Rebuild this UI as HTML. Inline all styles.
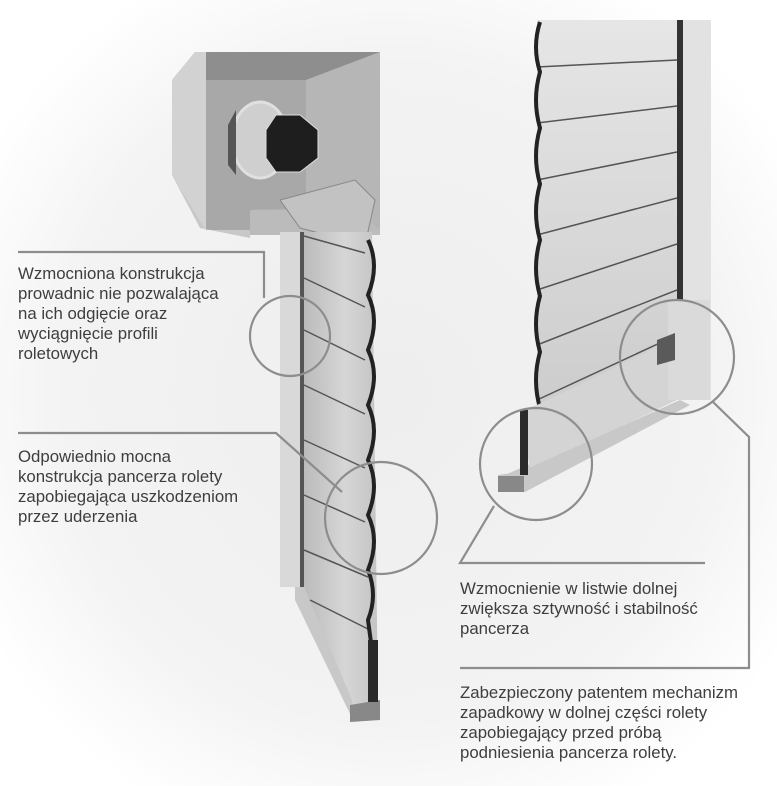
<!DOCTYPE html>
<html><head><meta charset="utf-8"><style>
html,body{margin:0;padding:0;background:#fff}
svg{display:block}
text{font-family:"Liberation Sans","DejaVu Sans",sans-serif;font-size:16.8px;fill:#3e3e3e}
</style></head><body>
<svg width="777" height="786" viewBox="0 0 777 786" xmlns="http://www.w3.org/2000/svg">
<defs>
<radialGradient id="bg" cx="0.5" cy="0.5" r="0.6">
<stop offset="0" stop-color="#eeeeee"/><stop offset="0.7" stop-color="#f3f3f3"/><stop offset="1" stop-color="#ffffff"/>
</radialGradient>
<linearGradient id="slatL" x1="0" y1="0" x2="1" y2="0">
<stop offset="0" stop-color="#b5b5b5"/><stop offset="0.6" stop-color="#d6d6d6"/><stop offset="1" stop-color="#c4c4c4"/>
</linearGradient>
<linearGradient id="slatR" x1="0" y1="0" x2="0" y2="1">
<stop offset="0" stop-color="#e6e6e6"/><stop offset="1" stop-color="#c8c8c8"/>
</linearGradient>
</defs>
<rect width="777" height="786" fill="url(#bg)"/>

<!-- LEFT BOX -->
<polygon points="172,80 195,52 380,52 380,235 250,235 172,175" fill="#bdbdbd"/>
<polygon points="172,80 195,52 206,52 206,230 172,175" fill="#d2d2d2"/>
<polygon points="206,80 306,80 306,230 206,230" fill="#a8a8a8"/>
<polygon points="206,52 380,52 306,80 206,80" fill="#8e8e8e"/>
<polygon points="306,80 380,52 380,230 306,230" fill="#b6b6b6"/>
<polygon points="172,175 206,230 250,230 250,238 200,228" fill="#c8c8c8"/>
<polygon points="250,210 355,208 380,230 250,235" fill="#bbbbbb"/>
<ellipse cx="260" cy="140" rx="28" ry="38" fill="#cfcfcf" stroke="#e0e0e0" stroke-width="3"/>
<polygon points="228,125 236,110 236,175 228,165" fill="#555"/>
<polygon points="276,115 300,115 318,130 318,158 300,172 276,172 266,158 266,130" fill="#1e1e1e" stroke="#ddd" stroke-width="1"/>
<polygon points="280,200 355,180 375,200 365,245 300,228" fill="#c2c2c2" stroke="#888" stroke-width="1"/>

<!-- slats -->
<polygon points="304,232 372,232 378,702 350,705 295,590" fill="url(#slatL)"/>
<g stroke="#555" stroke-width="1.5">
<line x1="304" y1="236" x2="365" y2="253"/><line x1="304" y1="278" x2="365" y2="307"/>
<line x1="304" y1="330" x2="365" y2="360"/><line x1="304" y1="385" x2="365" y2="414"/>
<line x1="304" y1="440" x2="365" y2="468"/><line x1="304" y1="495" x2="365" y2="522"/>
<line x1="304" y1="550" x2="368" y2="577"/><line x1="310" y1="600" x2="370" y2="630"/>
</g>
<!-- LEFT guide -->
<rect x="280" y="232" width="20" height="355" fill="#d9d9d9"/>
<rect x="300" y="232" width="4" height="355" fill="#555"/>
<path d="M368,240 q12,25 0,55 q12,25 0,55 q12,25 0,55 q12,25 0,55 q12,25 0,55 q12,25 0,55 q10,25 0,50 L376,680" fill="none" stroke="#222" stroke-width="4"/>
<!-- bottom bar -->
<polygon points="295,587 304,587 352,700 352,718 295,600" fill="#c8c8c8"/>
<polygon points="350,705 380,700 380,720 350,722" fill="#888"/>
<rect x="368" y="640" width="10" height="62" fill="#2a2a2a"/>

<!-- RIGHT shutter -->
<polygon points="537,20 680,20 680,398 505,475 537,470" fill="url(#slatR)"/>
<rect x="677" y="20" width="6" height="380" fill="#333"/>
<rect x="683" y="20" width="28" height="380" fill="#e2e2e2"/>
<g stroke="#555" stroke-width="1.5">
<line x1="537" y1="67" x2="677" y2="60"/><line x1="537" y1="123" x2="677" y2="106"/>
<line x1="537" y1="180" x2="677" y2="152"/><line x1="537" y1="235" x2="677" y2="198"/>
<line x1="537" y1="290" x2="677" y2="244"/><line x1="537" y1="345" x2="677" y2="290"/>
<line x1="537" y1="400" x2="677" y2="335"/>
</g>
<path d="M540,22 q-8,25 0,50 q-8,28 0,56 q-8,28 0,56 q-8,28 0,56 q-8,28 0,56 q-8,28 0,56 q-8,28 0,56" fill="none" stroke="#222" stroke-width="4"/>
<polygon points="520,410 537,405 677,338 677,400 530,470" fill="#d4d4d4"/>
<polygon points="498,475 520,472 680,400 690,405 525,492 498,492" fill="#c8c8c8"/>
<rect x="498" y="476" width="26" height="16" fill="#888"/>
<rect x="520" y="410" width="8" height="65" fill="#2a2a2a"/>
<rect x="668" y="300" width="42" height="100" fill="#dadada"/>
<polygon points="657,340 675,333 675,360 657,365" fill="#5a5a5a"/>

<!-- callout circles & lines -->
<g fill="none" stroke="#8d8d8d" stroke-width="2.2">
<circle cx="290" cy="336" r="40"/>
<circle cx="381" cy="518" r="56"/>
<circle cx="536" cy="464" r="56"/>
<circle cx="677" cy="357" r="57"/>
<polyline points="18,252 264,252 264,298"/>
<polyline points="18,433 276,433 342,492"/>
<polyline points="705,563 460,563 494,506"/>
<polyline points="460,668 749,668 749,437 713,402"/>
</g>

<text x="18" y="279">Wzmocniona konstrukcja</text>
<text x="18" y="299">prowadnic nie pozwalająca</text>
<text x="18" y="319">na ich odgięcie oraz</text>
<text x="18" y="339">wyciągnięcie profili</text>
<text x="18" y="359">roletowych</text>

<text x="18" y="462">Odpowiednio mocna</text>
<text x="18" y="482">konstrukcja pancerza rolety</text>
<text x="18" y="502">zapobiegająca uszkodzeniom</text>
<text x="18" y="522">przez uderzenia</text>

<text x="460" y="594">Wzmocnienie w listwie dolnej</text>
<text x="460" y="614">zwiększa sztywność i stabilność</text>
<text x="460" y="634">pancerza</text>

<text x="460" y="698">Zabezpieczony patentem mechanizm</text>
<text x="460" y="718">zapadkowy w dolnej części rolety</text>
<text x="460" y="738">zapobiegający przed próbą</text>
<text x="460" y="758">podniesienia pancerza rolety.</text>
</svg>
</body></html>
